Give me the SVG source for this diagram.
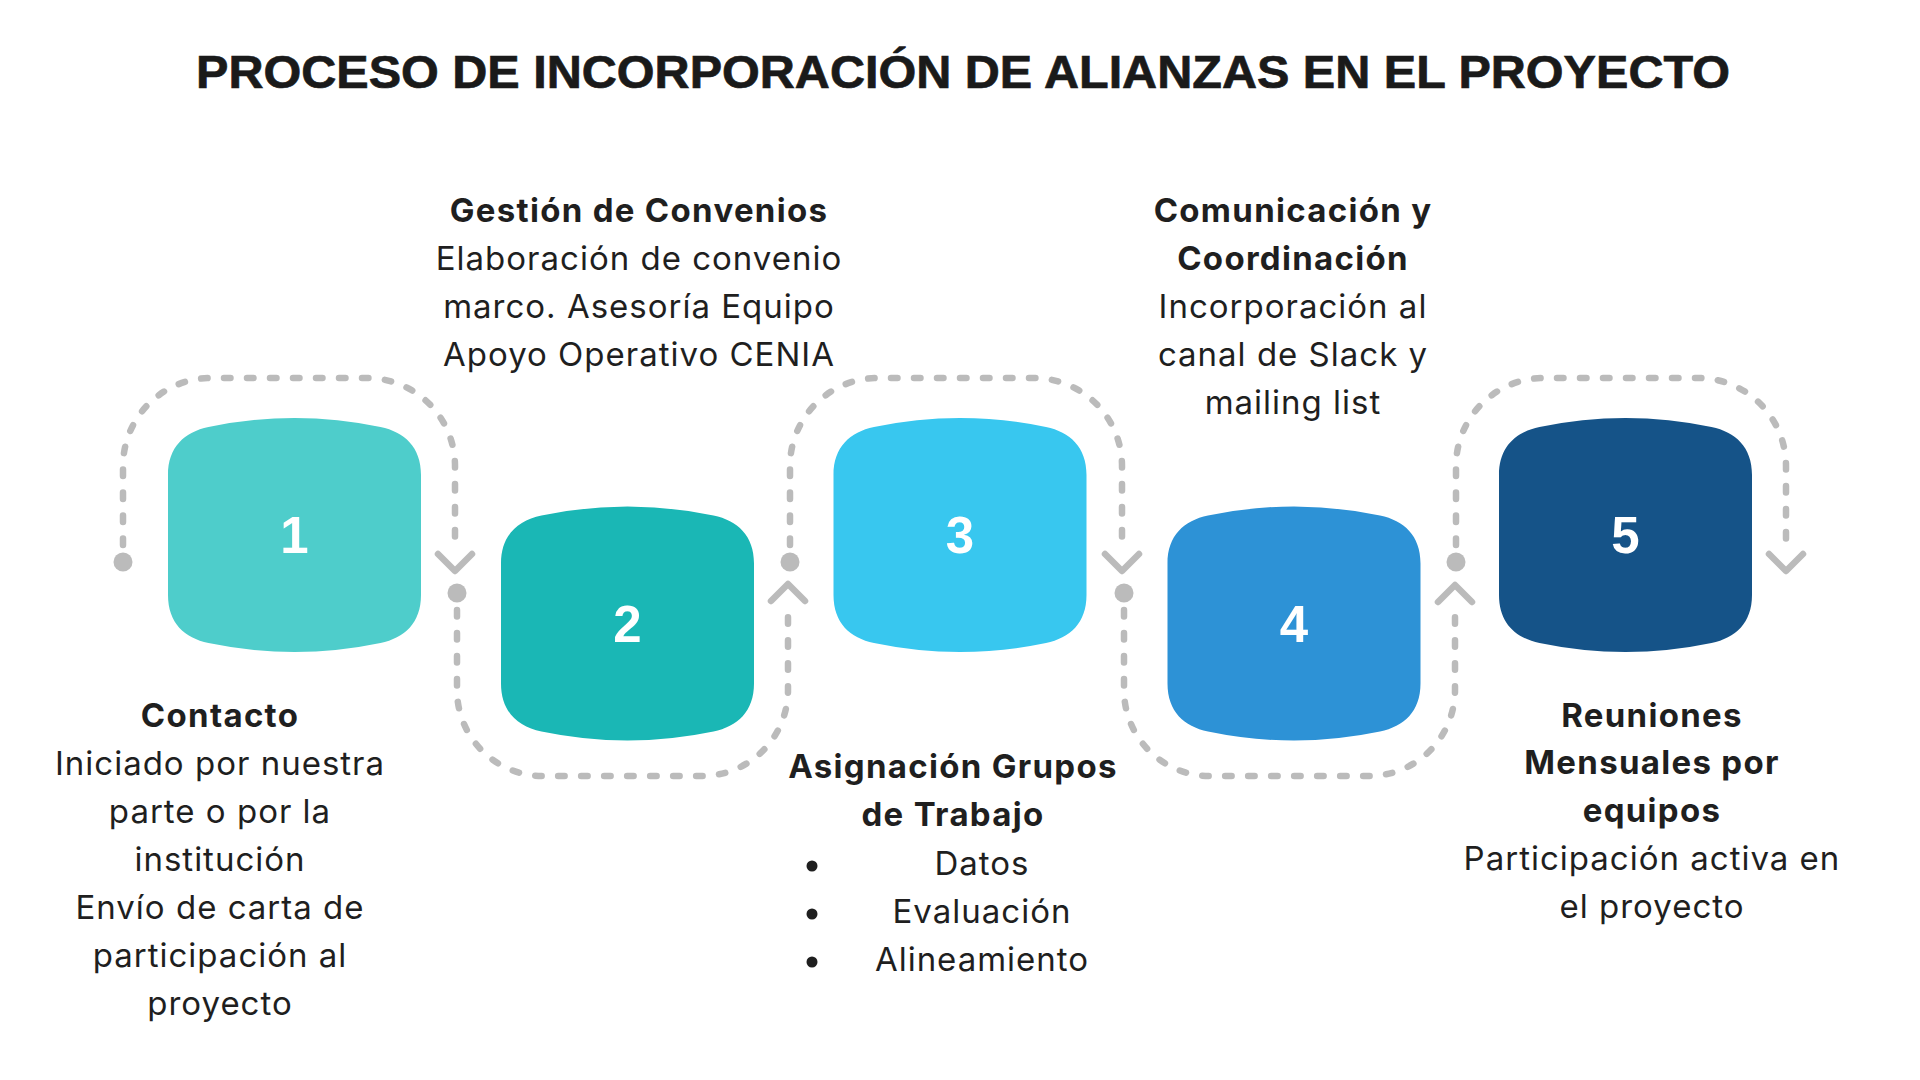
<svg xmlns="http://www.w3.org/2000/svg" xmlns:xlink="http://www.w3.org/1999/xlink" width="1920" height="1080" viewBox="0 0 1920 1080">
<style>
.title{font-family:"Liberation Sans",Arial,sans-serif;font-weight:700;font-size:47px;fill:#1a1a1a;stroke:#1a1a1a;stroke-width:0.7px;text-anchor:middle}
.num{font-family:"Liberation Sans",Arial,sans-serif;font-weight:700;font-size:51px;fill:#ffffff;text-anchor:middle}
.h{font-family:Inter,"Noto Sans",sans-serif;font-weight:700;font-size:33px;fill:#1f1f1f;text-anchor:middle;letter-spacing:1.3px}
.t{font-family:Inter,"Noto Sans",sans-serif;font-weight:400;font-size:33px;fill:#1f1f1f;text-anchor:middle;letter-spacing:1px}
.dash{fill:none;stroke:#bbbbbb;stroke-width:6.5;stroke-linecap:round;stroke-dasharray:6.5 16.5}
.chev{fill:none;stroke:#bbbbbb;stroke-width:6.5;stroke-linecap:round;stroke-linejoin:round}
.dot{fill:#bbbbbb}
.bul{fill:#1f1f1f}
</style>
<defs>
<path id="blob" d="M -126.5,-60 C -126.5,-88 -110,-103 -86,-108 Q 0,-126 86,-108 C 110,-103 126.5,-88 126.5,-60 L 126.5,60 C 126.5,88 110,103 86,108 Q 0,126 -86,108 C -110,103 -126.5,88 -126.5,60 Z"/>
</defs>
<rect width="1920" height="1080" fill="#ffffff"/>
<text class="title" x="963" y="88" textLength="1534" lengthAdjust="spacingAndGlyphs">PROCESO DE INCORPORACIÓN DE ALIANZAS EN EL PROYECTO</text>

<g id="connectors">
  <!-- loop A (over node 1) -->
  <circle class="dot" cx="123" cy="562" r="9.5"/>
  <path class="dash" d="M 123,545 L 123,466 A 88 88 0 0 1 211,378 L 367,378 A 88 88 0 0 1 455,466 L 455,545"/>
  <polyline class="chev" points="438,554 455,571 472,554"/>
  <!-- loop B (under node 2) -->
  <circle class="dot" cx="457" cy="593" r="9.5"/>
  <path class="dash" d="M 457,610 L 457,690 A 86 86 0 0 0 543,776 L 702,776 A 86 86 0 0 0 788,690 L 788,610"/>
  <polyline class="chev" points="771,601 788,584 805,601"/>
  <!-- loop C (over node 3) -->
  <circle class="dot" cx="790" cy="562" r="9.5"/>
  <path class="dash" d="M 790,545 L 790,466 A 88 88 0 0 1 878,378 L 1034,378 A 88 88 0 0 1 1122,466 L 1122,545"/>
  <polyline class="chev" points="1105,554 1122,571 1139,554"/>
  <!-- loop D (under node 4) -->
  <circle class="dot" cx="1124" cy="593" r="9.5"/>
  <path class="dash" d="M 1124,610 L 1124,690 A 86 86 0 0 0 1210,776 L 1369,776 A 86 86 0 0 0 1455,690 L 1455,610"/>
  <polyline class="chev" points="1438,602 1455,585 1472,602"/>
  <!-- loop E (over node 5) -->
  <circle class="dot" cx="1456" cy="562" r="9.5"/>
  <path class="dash" d="M 1456,545 L 1456,466 A 88 88 0 0 1 1544,378 L 1698,378 A 88 88 0 0 1 1786,466 L 1786,545"/>
  <polyline class="chev" points="1769,554 1786,571 1803,554"/>
</g>

<g id="node1">
  <use xlink:href="#blob" href="#blob" transform="translate(294.5,535)" fill="#4ecdcb"/>
  <text class="num" x="294.5" y="553">1</text>
</g>
<g id="node2">
  <use xlink:href="#blob" href="#blob" transform="translate(627.5,623.5)" fill="#1ab7b5"/>
  <text class="num" x="627.5" y="642">2</text>
</g>
<g id="node3">
  <use xlink:href="#blob" href="#blob" transform="translate(960,535)" fill="#38c7ef"/>
  <text class="num" x="960" y="553">3</text>
</g>
<g id="node4">
  <use xlink:href="#blob" href="#blob" transform="translate(1294,623.5)" fill="#2d92d6"/>
  <text class="num" x="1294" y="642">4</text>
</g>
<g id="node5">
  <use xlink:href="#blob" href="#blob" transform="translate(1625.5,535)" fill="#155388"/>
  <text class="num" x="1625.5" y="553">5</text>
</g>

<g id="label1">
  <text class="h" x="220" y="727">Contacto</text>
  <text class="t" x="220" y="775">Iniciado por nuestra</text>
  <text class="t" x="220" y="823">parte o por la</text>
  <text class="t" x="220" y="871">institución</text>
  <text class="t" x="220" y="919">Envío de carta de</text>
  <text class="t" x="220" y="967">participación al</text>
  <text class="t" x="220" y="1015">proyecto</text>
</g>
<g id="label2">
  <text class="h" x="639" y="222">Gestión de Convenios</text>
  <text class="t" x="639" y="270">Elaboración de convenio</text>
  <text class="t" x="639" y="318">marco. Asesoría Equipo</text>
  <text class="t" x="639" y="366">Apoyo Operativo CENIA</text>
</g>
<g id="label3">
  <text class="h" x="953" y="778">Asignación Grupos</text>
  <text class="h" x="953" y="826">de Trabajo</text>
  <circle class="bul" cx="812" cy="866" r="5.5"/>
  <text class="t" x="982" y="875">Datos</text>
  <circle class="bul" cx="812" cy="914" r="5.5"/>
  <text class="t" x="982" y="923">Evaluación</text>
  <circle class="bul" cx="812" cy="962" r="5.5"/>
  <text class="t" x="982" y="971">Alineamiento</text>
</g>
<g id="label4">
  <text class="h" x="1293" y="222">Comunicación y</text>
  <text class="h" x="1293" y="270">Coordinación</text>
  <text class="t" x="1293" y="318">Incorporación al</text>
  <text class="t" x="1293" y="366">canal de Slack y</text>
  <text class="t" x="1293" y="414">mailing list</text>
</g>
<g id="label5">
  <text class="h" x="1652" y="727">Reuniones</text>
  <text class="h" x="1652" y="774">Mensuales por</text>
  <text class="h" x="1652" y="822">equipos</text>
  <text class="t" x="1652" y="870">Participación activa en</text>
  <text class="t" x="1652" y="918">el proyecto</text>
</g>
</svg>
